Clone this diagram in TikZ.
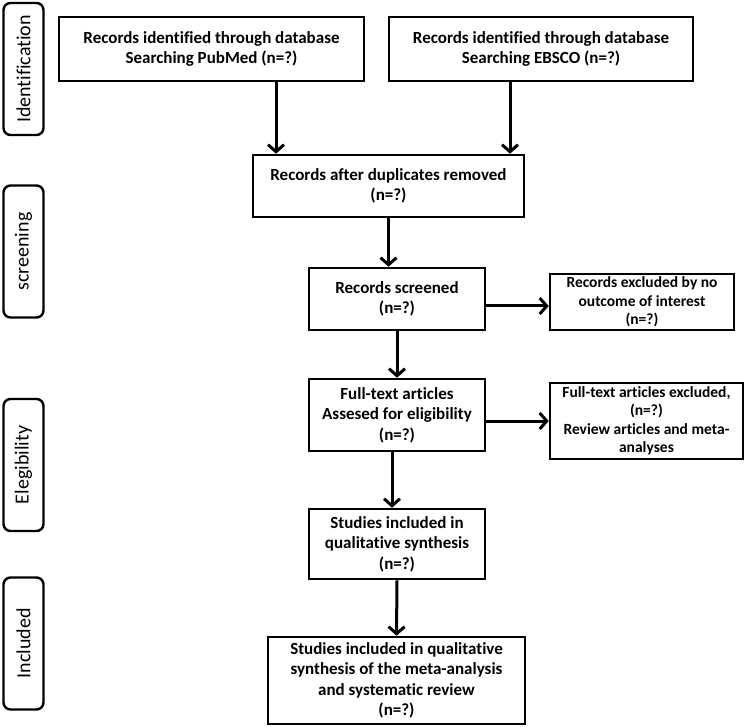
\documentclass[tikz,border=0pt]{standalone}
\usepackage{fontspec}
\setmainfont{Carlito}[Ligatures=NoCommon]
\usetikzlibrary{arrows.meta}
\tikzset{
    box/.style={draw, line width=2.6pt, align=center, inner sep=2pt, font=\bfseries\fontsize{17}{20.5}\selectfont},
    smallbox/.style={box, font=\bfseries\fontsize{15.5}{18.5}\selectfont},
    stage/.style={draw, line width=2.4pt, rounded corners=7pt, rotate=90, minimum height=40pt, font=\fontsize{20}{22}\selectfont},
    arr/.style={line width=3pt, -{Straight Barb[length=7pt, width=16pt, line width=3pt]}}
}

\begin{document}
\begin{tikzpicture}[x=1pt, y=-1pt]

        \useasboundingbox (0,0) rectangle (747,727);

        \node[stage, minimum width=132pt] (ident) at (23.5, 69) {Identification};
        \node[stage, minimum width=132pt] (scrn) at (23.5, 251.5) {screening};
        \node[stage, minimum width=132pt] (elig) at (23.5, 465) {Elegibility};
        \node[stage, minimum width=132pt] (incl) at (23.5, 643.5) {Included};

        \node[box, minimum width=305pt, minimum height=64pt] (pubmed) at (211.5, 49) {Records identified through database\\Searching PubMed (n=?)};
        \node[box, minimum width=304pt, minimum height=64pt] (ebsco) at (541, 49) {Records identified through database\\Searching EBSCO (n=?)};
        \node[box, minimum width=271pt, minimum height=62pt] (dupl) at (388.5, 186) {Records after duplicates removed\\(n=?)};
        \node[box, minimum width=176pt, minimum height=62pt] (screened) at (397, 299) {Records screened\\(n=?)};
        \node[smallbox, minimum width=184pt, minimum height=56pt] (exclone) at (642, 302) {Records excluded by no\\outcome of interest\\(n=?)};
        \node[box, minimum width=176pt, minimum height=72pt] (fulltext) at (397, 415) {Full-text articles\\Assesed for eligibility\\(n=?)};
        \node[smallbox, minimum width=193pt, minimum height=76pt] (excltwo) at (646.5, 421) {Full-text articles excluded,\\(n=?)\\Review articles and meta-\\analyses};
        \node[box, minimum width=176pt, minimum height=70pt] (qual) at (397, 544) {Studies included in\\qualitative synthesis\\(n=?)};
        \node[box, minimum width=257pt, minimum height=87pt] (final) at (396.5, 680.5) {Studies included in qualitative\\synthesis of the meta-analysis\\and systematic review\\(n=?)};

        \draw[arr] ([xshift=64.5]pubmed.south) coordinate (pm) -- (pm |- dupl.north);
        \draw[arr] ([xshift=-31]ebsco.south) coordinate (eb) -- (eb |- dupl.north);
        \draw[arr] (dupl.south) -- (dupl.south |- screened.north);
        \draw[arr] (screened.south) -- (fulltext.north);
        \draw[arr] ([yshift=-7]screened.east) -- ([yshift=-7]screened.east -| exclone.west);
        \draw[arr] (excltwo.west -| fulltext.east) -- (excltwo.west);
        \draw[arr] ([xshift=-5]fulltext.south) -- ([xshift=-5]qual.north);
        \draw[arr] (qual.south) -- (final.north);

    \end{tikzpicture}
\end{document}
